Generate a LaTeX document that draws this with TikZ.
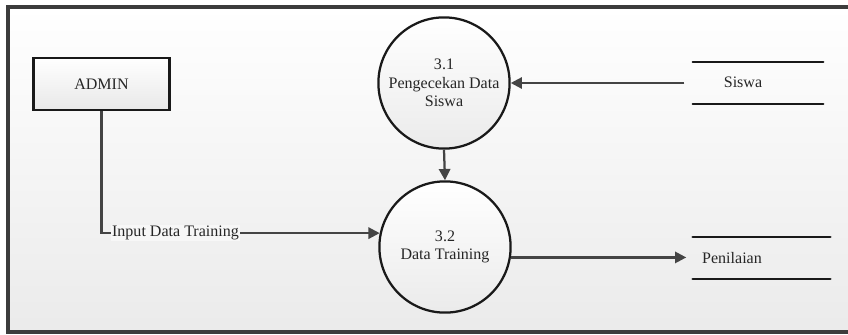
\documentclass[tikz,border=0pt]{standalone}
\usepackage{fontspec}
\setmainfont{Liberation Serif}
\usetikzlibrary{positioning,arrows.meta,shadows}

\definecolor{framegray}{HTML}{3C3C3C}
\definecolor{linegray}{HTML}{444444}
\definecolor{txtgray}{HTML}{262626}

\begin{document}
\begin{tikzpicture}[
        x=0.025cm, y=-0.025cm,
        font=\fontsize{11.4}{13.2}\selectfont,
        every node/.style={text=txtgray},
        entity/.style={rectangle, draw=black!90, line width=1.6pt, minimum width=3.4cm, minimum height=1.3cm, top color=white, bottom color=black!9, drop shadow={opacity=0.2, shadow xshift=1pt, shadow yshift=-1pt}},
        proc/.style={circle, draw=black!90, line width=1.6pt, align=center, minimum size=3.28cm, inner sep=0pt, top color=white, bottom color=black!8},
        store/.style={rectangle, minimum height=1.03cm, inner sep=0pt},
        storeline/.style={draw=black!90, line width=1.7pt, line cap=round},
        flow/.style={draw=linegray, line width=1.6pt, -{Triangle[length=8pt, width=8pt]}}
    ]
        \useasboundingbox (0,0) rectangle (848,335);
        \clip (0,0) rectangle (848,335);

        % outer frame
        \draw[draw=framegray, line width=2.4pt, top color=white, bottom color=black!8] (8,7) rectangle (860,332);

        \node[entity] (admin) at (101.5,84) {ADMIN};
        \node[proc] (p31) at (444,83) {3.1\\Pengecekan Data\\Siswa};
        \node[proc] (p32) at (445,247) {3.2\\Data Training};

        % data stores
        \node[store, minimum width=3.25cm] (siswa) at (758,83) {};
        \node (siswalbl) at (743,82) {Siswa};
        \node[store, minimum width=3.43cm] (penilaian) at (761.5,258) {};
        \node (penilaianlbl) at (732,258) {Penilaian};
        \draw[storeline] (siswa.north west) -- (siswa.north east) (siswa.south west) -- (siswa.south east);
        \draw[storeline] (penilaian.north west) -- (penilaian.north east) (penilaian.south west) -- (penilaian.south east);

        \draw[flow, shorten <=6pt] (siswa.west) -- (p31.east);
        \draw[flow] (p31.south) -- (p32.north);
        \draw[flow] (admin.south) |- (p32.168)
            node[pos=0.633, fill=white!97!black, inner sep=0.5pt] (inputlbl) {Input Data Training};
        \draw[flow, shorten >=4.5pt] (p32.-9) -- (p32.-9 -| penilaian.west);
\end{tikzpicture}
\end{document}
